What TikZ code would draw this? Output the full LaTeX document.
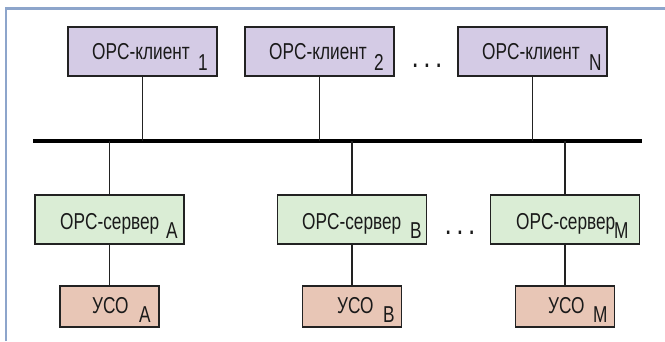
\documentclass[tikz,border=0pt]{standalone}
\usepackage{fontspec}
\setmainfont{Liberation Sans}[FakeStretch=0.75]
\definecolor{clientfill}{HTML}{D4CBE5}
\definecolor{serverfill}{HTML}{DAEDD5}
\definecolor{usofill}{HTML}{E8C6B6}
\definecolor{framecol}{HTML}{8DA5CB}
\definecolor{edgecol}{HTML}{222222}
\definecolor{textcol}{HTML}{1A1A1A}
\tikzset{
  box/.style={draw=edgecol, line width=1.8pt, inner sep=0pt, minimum height=49pt, minimum width=149pt},
  clientbox/.style={box, fill=clientfill},
  serverbox/.style={box, fill=serverfill},
  usobox/.style={box, fill=usofill, minimum height=41pt, minimum width=99pt},
  lbl/.style={anchor=base west, inner sep=0pt, font=\fontsize{23}{27}\selectfont, text=textcol},
  conn/.style={draw=edgecol, line width=1.4pt},
  dots/.style={inner sep=0pt, font=\fontsize{23}{27}\selectfont\bfseries, text=textcol}
}
\begin{document}
\begin{tikzpicture}[x=1pt, y=-1pt]
\useasboundingbox (0,0) rectangle (665,341);
% frame
\draw[framecol, line width=2.5pt] (6.2,341) -- (6.2,8.5) -- (665,8.5);
% bus
\coordinate (busL) at (33,141);
\coordinate (busR) at (642,141);
\draw[line width=4.5pt] (busL) -- (busR);
% clients
\node[clientbox] (c1) at (142.5,51.5) {};
\node[clientbox] (c2) at (319.5,51.5) {};
\node[clientbox] (cN) at (532.5,51.5) {};
\node[lbl] (c1t) at (92,59) {OPC-клиент};
\node[lbl] (c1s) at (198,70) {1};
\node[lbl] (c2t) at (269,59) {OPC-клиент};
\node[lbl] (c2s) at (374,70) {2};
\node[lbl] (cNt) at (482,59) {OPC-клиент};
\node[lbl] (cNs) at (589,70) {N};
\node[dots] (cdots) at (427,66) {.\hspace{7pt}.\hspace{7pt}.};
% servers
\node[serverbox] (sA) at (109.5,219.5) {};
\node[serverbox] (sB) at (352,219.5) {};
\node[serverbox] (sM) at (565,219.5) {};
\node[lbl] (sAt) at (60,229) {OPC-сервер};
\node[lbl] (sAs) at (166,238) {A};
\node[lbl] (sBt) at (302,229) {OPC-сервер};
\node[lbl] (sBs) at (410,238) {B};
\node[lbl] (sMt) at (516,229) {OPC-сервер};
\node[lbl] (sMs) at (614,238) {M};
\node[dots] (sdots) at (460,233) {.\hspace{7pt}.\hspace{7pt}.};
% USO
\node[usobox] (uA) at (109.5,306.5) {};
\node[usobox] (uB) at (352,306.5) {};
\node[usobox] (uM) at (565,306.5) {};
\node[lbl] (uAt) at (92,313) {УСО};
\node[lbl] (uAs) at (139,322) {A};
\node[lbl] (uBt) at (337,313) {УСО};
\node[lbl] (uBs) at (383,322) {B};
\node[lbl] (uMt) at (548,313) {УСО};
\node[lbl] (uMs) at (593,322) {M};
% connectors
\draw[conn] (c1.south) -- (c1.south |- busL);
\draw[conn] (c2.south) -- (c2.south |- busL);
\draw[conn] (cN.south) -- (cN.south |- busL);
\draw[conn] (sA.north |- busL) -- (sA.north);
\draw[conn] (sB.north |- busL) -- (sB.north);
\draw[conn] (sM.north |- busL) -- (sM.north);
\draw[conn] (sA.south) -- (uA.north);
\draw[conn] (sB.south) -- (uB.north);
\draw[conn] (sM.south) -- (uM.north);
\end{tikzpicture}
\end{document}
